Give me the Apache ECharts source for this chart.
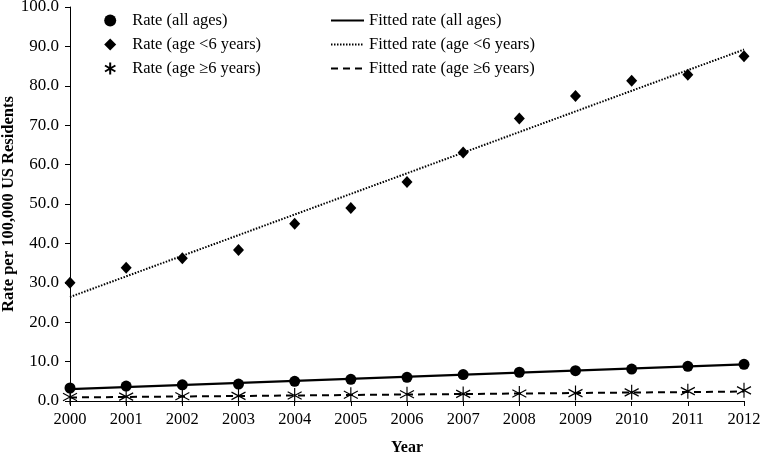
<!DOCTYPE html>
<html>
<head>
<meta charset="utf-8">
<script src="https://cdn.jsdelivr.net/npm/echarts@6/dist/echarts.min.js"></script>
<style>
  html, body { margin: 0; padding: 0; background: #fff; }
  #chart { width: 761px; height: 458px; }
</style>
</head>
<body>
<div id="chart"></div>
<script>
// data
const years = [2000, 2001, 2002, 2003, 2004, 2005, 2006, 2007, 2008, 2009, 2010, 2011, 2012]
const rateAll = [3.3, 3.8, 4.1, 4.3, 5.0, 5.5, 6.0, 6.7, 7.3, 7.7, 8.1, 8.8, 9.3]
const rateUnder6 = [30.0, 33.8, 36.2, 38.3, 45.0, 49.0, 55.6, 63.1, 71.7, 77.4, 81.3, 82.8, 87.5]
const rate6Plus = [1.0, 1.1, 1.2, 1.3, 1.4, 1.6, 1.7, 1.8, 1.9, 2.0, 2.2, 2.5, 2.7]
// fitted lines: value at first and last year
const fitYears = [2000, 2012]
const fitAll = [3.0, 9.3]
const fitUnder6 = [26.4, 89.2]
const fit6Plus = [0.9, 2.4]

const font = 'Liberation Serif'
const pair = (xs, ys) => xs.map((x, i) => [x, ys[i]])
const asterisk = 'path://M0,-10L0,10M-8.66,-5L8.66,5M-8.66,5L8.66,-5'

let myChart = echarts.init(document.getElementById('chart'))
myChart.setOption({
  animation: false,
  textStyle: { fontFamily: font, color: '#000' },
  grid: { left: 70, right: 17, top: 7, bottom: 57, containLabel: false, outerBoundsMode: 'none' },
  legend: [
    {
      left: 104,
      top: 12,
      padding: 0,
      orient: 'vertical',
      itemGap: 7,
      itemWidth: 12,
      itemHeight: 12,
      textStyle: { fontFamily: font, fontSize: 16.5, color: '#000', padding: [0, 0, 0, 11] },
      data: ['Rate (all ages)', 'Rate (age <6 years)', 'Rate (age ≥6 years)']
    },
    {
      left: 330,
      top: 12,
      padding: 0,
      orient: 'vertical',
      itemGap: 7,
      itemWidth: 33,
      itemHeight: 12,
      itemStyle: { opacity: 0 },
      textStyle: { fontFamily: font, fontSize: 16.5, color: '#000' },
      data: ['Fitted rate (all ages)', 'Fitted rate (age <6 years)', 'Fitted rate (age ≥6 years)']
    }
  ],
  xAxis: {
    type: 'value',
    min: 2000,
    max: 2012,
    interval: 1,
    name: 'Year',
    nameLocation: 'middle',
    nameGap: 39,
    nameTextStyle: { fontFamily: font, fontSize: 16, fontWeight: 'bold', color: '#000' },
    axisLine: { lineStyle: { color: '#000', width: 1 } },
    axisTick: { length: 5, lineStyle: { color: '#000' } },
    axisLabel: { fontFamily: font, fontSize: 16.5, color: '#000', margin: 10, formatter: v => String(v) },
    splitLine: { show: false }
  },
  yAxis: {
    type: 'value',
    min: 0,
    max: 100,
    interval: 10,
    name: 'Rate per 100,000 US Residents',
    nameLocation: 'middle',
    nameGap: 53,
    nameMoveOverlap: false,
    nameTextStyle: { fontFamily: font, fontSize: 16.5, fontWeight: 'bold', color: '#000' },
    axisLine: { show: true, lineStyle: { color: '#000', width: 1 } },
    axisTick: { show: true, length: 5, lineStyle: { color: '#000' } },
    axisLabel: { fontFamily: font, fontSize: 17, color: '#000', margin: 11, formatter: v => v.toFixed(1) },
    splitLine: { show: false }
  },
  series: [
    {
      name: 'Fitted rate (all ages)',
      type: 'line',
      symbol: 'none',
      data: pair(fitYears, fitAll),
      lineStyle: { color: '#000', width: 2.2, type: 'solid' },
      itemStyle: { color: '#000' },
      z: 2
    },
    {
      name: 'Fitted rate (age <6 years)',
      type: 'line',
      symbol: 'none',
      data: pair(fitYears, fitUnder6),
      lineStyle: { color: '#000', width: 2, type: [1.5, 1.5] },
      itemStyle: { color: '#000' },
      z: 2
    },
    {
      name: 'Fitted rate (age ≥6 years)',
      type: 'line',
      symbol: 'none',
      data: pair(fitYears, fit6Plus),
      lineStyle: { color: '#000', width: 2, type: [7, 5] },
      itemStyle: { color: '#000' },
      z: 2
    },
    {
      name: 'Rate (all ages)',
      type: 'scatter',
      symbol: 'circle',
      symbolSize: 11,
      data: pair(years, rateAll),
      itemStyle: { color: '#000', opacity: 1 },
      z: 3
    },
    {
      name: 'Rate (age <6 years)',
      type: 'scatter',
      symbol: 'diamond',
      symbolSize: [11, 12],
      data: pair(years, rateUnder6),
      itemStyle: { color: '#000', opacity: 1 },
      z: 3
    },
    {
      name: 'Rate (age ≥6 years)',
      type: 'scatter',
      symbol: asterisk,
      symbolSize: [14, 15],
      data: pair(years, rate6Plus),
      itemStyle: { color: 'rgba(0,0,0,0)', borderColor: '#000', borderWidth: 1.2, opacity: 1 },
      z: 3
    }
  ]
})
</script>
</body>
</html>
